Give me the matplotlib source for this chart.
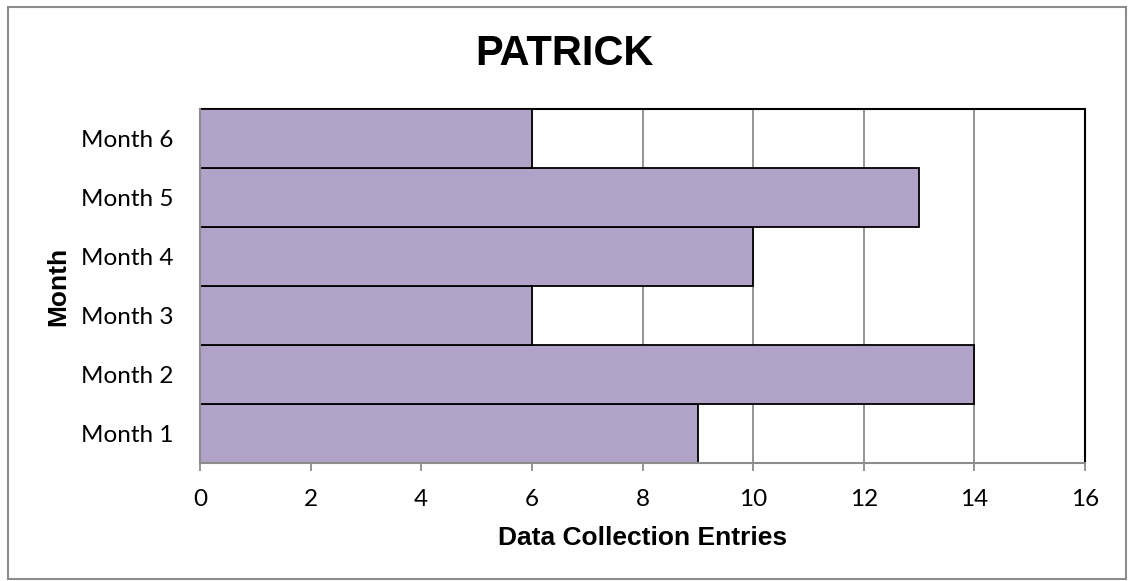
import matplotlib.pyplot as plt
from matplotlib.patches import Rectangle

months = ["Month 1", "Month 2", "Month 3", "Month 4", "Month 5", "Month 6"]
entries = [9, 14, 6, 10, 13, 6]
x_ticks = [0, 2, 4, 6, 8, 10, 12, 14, 16]

fig = plt.figure(figsize=(11.28, 5.81), dpi=100)
W, H = 1128, 581
ax = fig.add_axes([200 / W, 1 - 463 / H, 885 / W, 354 / H])

ax.barh(range(len(months)), entries, height=1.0, color="#B1A2C8",
        edgecolor="black", linewidth=1.3, zorder=3)

ax.set_xlim(0, 16)
ax.set_ylim(-0.5, len(months) - 0.5)
ax.set_xticks(x_ticks)
ax.set_yticks(range(len(months)))
ax.set_yticklabels(months)
ax.xaxis.grid(True, color="#8c8c8c", linewidth=1.3, zorder=0)
ax.set_axisbelow(True)

for side in ["top", "right"]:
    ax.spines[side].set_color("black")
    ax.spines[side].set_linewidth(1.5)
for side in ["left", "bottom"]:
    ax.spines[side].set_color("#8c8c8c")
    ax.spines[side].set_linewidth(1.5)
    ax.spines[side].set_zorder(4)

ax.tick_params(axis="x", direction="out", length=6, width=1.3, color="#8c8c8c",
               labelsize=17.5, pad=13)
ax.tick_params(axis="y", length=0, labelsize=17.5, pad=19)
for lbl in ax.get_xticklabels() + ax.get_yticklabels():
    lbl.set_family("Lato")

ax.set_xlabel("Data Collection Entries", fontsize=19, fontweight="bold",
              family="Liberation Sans", labelpad=11)
ax.set_ylabel("Month", fontsize=19, fontweight="bold",
              family="Liberation Sans", labelpad=8)
fig.text(0.5, 1 - 54 / H, "PATRICK", ha="center", va="center", fontsize=30,
         fontweight="bold", family="Liberation Sans")

# outer chart border
fig.patches.append(Rectangle((8 / W, 2 / H), 1118 / W, 572 / H,
                             transform=fig.transFigure, fill=False,
                             edgecolor="#8c8c8c", linewidth=1.5))

fig.savefig("out.png", dpi=100)
